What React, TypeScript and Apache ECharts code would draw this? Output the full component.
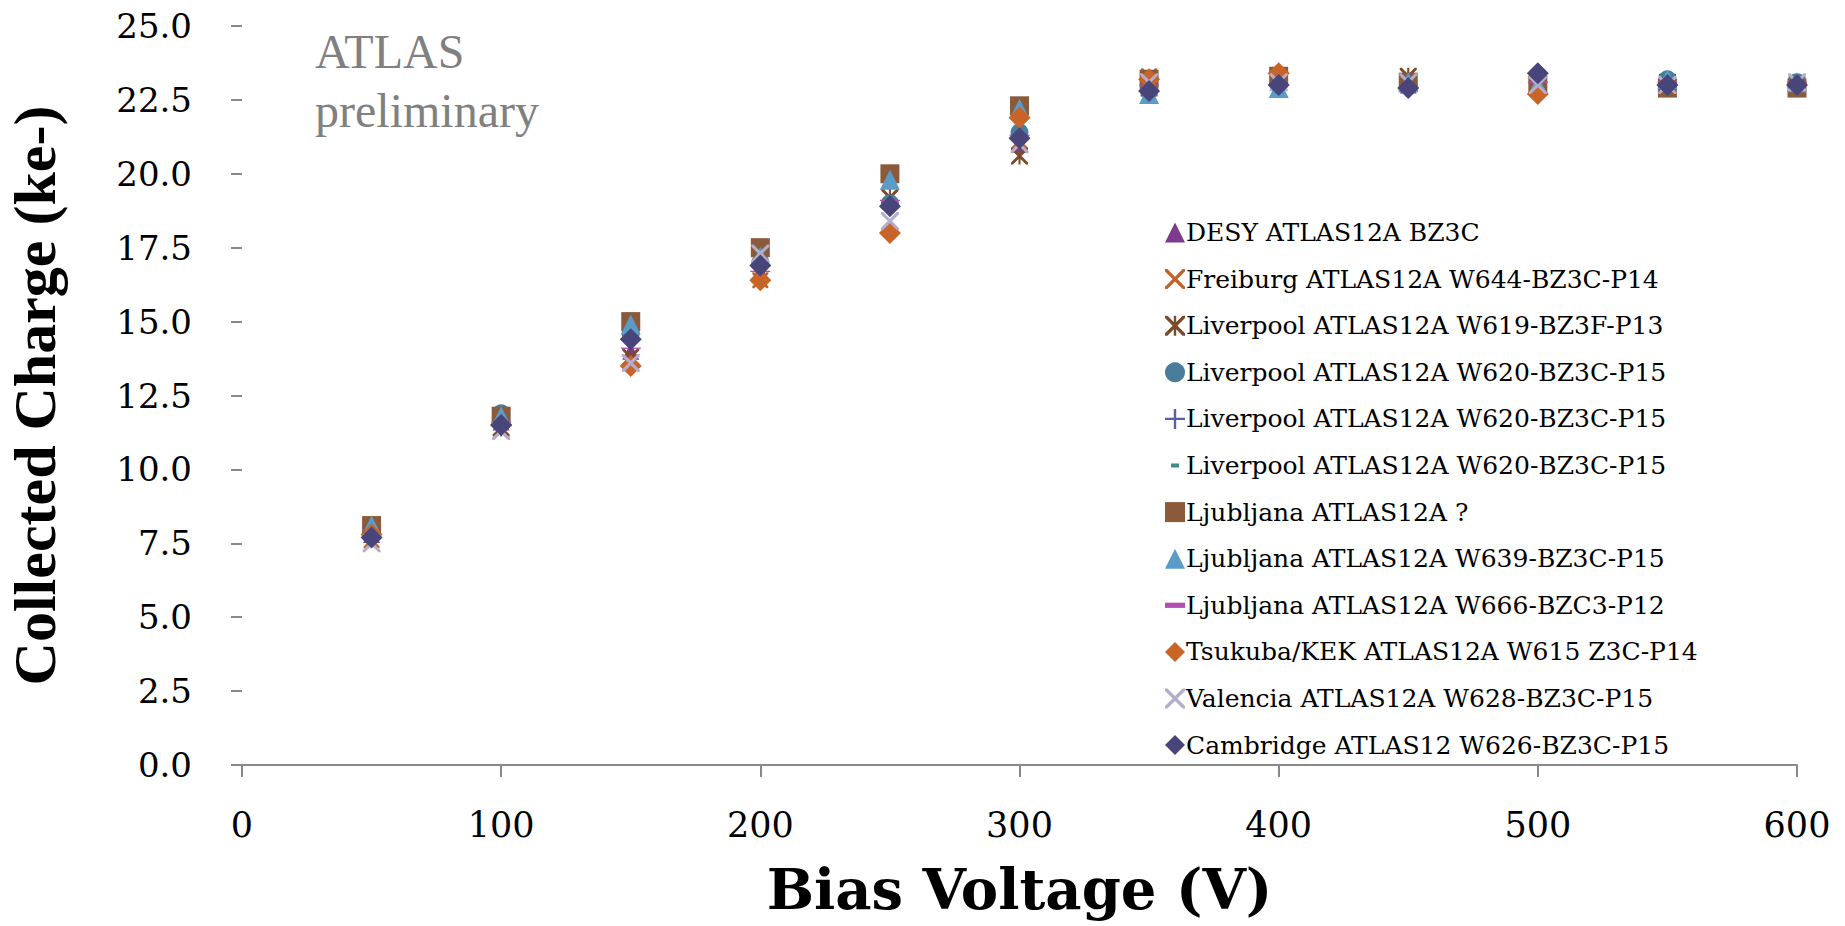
import React, { useEffect, useRef } from "react";
import * as echarts from "echarts";

const voltages = [50, 100, 150, 200, 250, 300, 350, 400, 450, 500, 550, 600];

const desy = [7.8, 11.6, 14.0, 16.7, 19.1, 21.0, 23.0, 23.1, 23.0, 23.1, null, null];
const freiburg = [7.6, 11.3, 13.6, 16.4, 19.2, 21.1, 23.3, 23.2, 23.1, 23.0, null, null];
const liverpool619 = [null, 11.4, 13.8, 16.6, 19.2, 20.6, 22.9, 23.2, 23.3, 23.1, 23.1, 23.0];
const liverpool620a = [8.1, 11.9, 14.6, 17.0, 19.0, 21.4, 22.8, 23.0, 23.0, 23.1, 23.2, 23.1];
const liverpool620b = [7.9, 11.7, 14.4, 16.9, 19.0, 21.2, 22.9, 23.0, 23.0, 23.0, 23.0, 23.0];
const liverpool620c = [8.0, 11.8, 14.5, 17.1, 19.1, 21.3, 22.9, 23.1, 23.0, 23.1, 23.1, 23.1];
const ljubljanaQ = [8.1, 11.8, 15.0, 17.5, 20.0, 22.3, 23.2, 23.3, 23.1, 23.0, 22.9, 22.9];
const ljubljana639 = [8.1, 11.8, 14.9, 17.2, 19.8, 22.2, 22.7, 22.9, 23.1, 23.0, 23.2, 23.1];
const ljubljana666 = [7.8, 11.6, 14.1, 16.7, 19.1, 21.3, 23.0, 23.0, 22.9, 23.1, 23.1, 23.1];
const tsukuba = [7.8, 11.5, 13.5, 16.4, 18.0, 21.9, 23.2, 23.4, null, 22.7, null, null];
const valencia = [7.5, 11.3, 13.6, 17.3, 18.4, 21.0, 23.1, 23.1, 23.1, 23.0, 23.0, 23.1];
const cambridge = [7.7, 11.5, 14.4, 16.9, 18.9, 21.2, 22.8, 23.0, 22.9, 23.4, 23.0, 23.0];

const seriesNames = [
  "DESY ATLAS12A BZ3C",
  "Freiburg ATLAS12A W644-BZ3C-P14",
  "Liverpool ATLAS12A W619-BZ3F-P13",
  "Liverpool ATLAS12A W620-BZ3C-P15",
  "Liverpool ATLAS12A W620-BZ3C-P15 ",
  "Liverpool ATLAS12A W620-BZ3C-P15  ",
  "Ljubljana ATLAS12A ?",
  "Ljubljana ATLAS12A W639-BZ3C-P15",
  "Ljubljana ATLAS12A W666-BZC3-P12",
  "Tsukuba/KEK ATLAS12A W615 Z3C-P14",
  "Valencia ATLAS12A W628-BZ3C-P15",
  "Cambridge ATLAS12 W626-BZ3C-P15",
];

const seriesValues = [
  desy, freiburg, liverpool619, liverpool620a, liverpool620b, liverpool620c,
  ljubljanaQ, ljubljana639, ljubljana666, tsukuba, valencia, cambridge,
];

const yTicks = [0, 2.5, 5, 7.5, 10, 12.5, 15, 17.5, 20, 22.5, 25];
const xTicks = [0, 100, 200, 300, 400, 500, 600];

const X_PATH =
  "M0,0 L1.2,0 L5,3.8 L8.8,0 L10,0 L10,1.2 L6.2,5 L10,8.8 L10,10 L8.8,10 L5,6.2 L1.2,10 L0,10 L0,8.8 L3.8,5 L0,1.2 Z";
const SYM_X = "path://" + X_PATH;
const SYM_AST = "path://" + X_PATH + " M4.4,0 L5.6,0 L5.6,10 L4.4,10 Z";
const SYM_PLUS =
  "path://M4.4,0 L5.6,0 L5.6,4.4 L10,4.4 L10,5.6 L5.6,5.6 L5.6,10 L4.4,10 L4.4,5.6 L0,5.6 L0,4.4 L4.4,4.4 Z";
const SYM_DASH_TEAL =
  "path://M0,0 L0.01,0 L0.01,0.01 Z M6,3 L14,3 L14,7 L6,7 Z M19.99,9.99 L20,9.99 L20,10 Z";
const SYM_DASH_MAG = "path://M0,0 L10,0 L10,2.6 L0,2.6 Z";

const styles = [
  { color: "#7E3B8E", symbol: "triangle", size: 17 },
  { color: "#C2622C", symbol: SYM_X, size: 16 },
  { color: "#7A4A2A", symbol: SYM_AST, size: 17 },
  { color: "#4A7D9B", symbol: "circle", size: 18 },
  { color: "#5B5EA6", symbol: SYM_PLUS, size: 17 },
  { color: "#3F8C8C", symbol: SYM_DASH_TEAL, size: [20, 10] },
  { color: "#8B5A3A", symbol: "rect", size: 19 },
  { color: "#5B9BC8", symbol: "triangle", size: 20 },
  { color: "#B34FB4", symbol: SYM_DASH_MAG, size: [20, 5] },
  { color: "#C96428", symbol: "diamond", size: 22 },
  { color: "#B3AECB", symbol: SYM_X, size: 18 },
  { color: "#47457A", symbol: "diamond", size: 22 },
];

const SERIF = "'DejaVu Serif', 'Liberation Serif', serif";

export default function App() {
  const ref = useRef<HTMLDivElement>(null);
  useEffect(() => {
    document.body.style.margin = "0";
    document.body.style.overflow = "hidden";
    if (!ref.current) return;
    const chart = echarts.init(ref.current, undefined, { renderer: "svg" });
    const series = seriesNames.map((name, i) => ({
      name,
      type: "scatter",
      symbol: styles[i].symbol,
      symbolSize: styles[i].size,
      symbolKeepAspect: true,
      itemStyle: { color: styles[i].color, opacity: 1 },
      data: voltages
        .map((v, j) => [v, seriesValues[i][j]])
        .filter((p) => p[1] !== null),
      z: 2 + i,
    }));
    chart.setOption({
      animation: false,
      backgroundColor: "#ffffff",
      grid: {
        left: 242,
        right: 48,
        top: 26,
        bottom: 161,
        containLabel: false,
        outerBoundsMode: "none",
      },
      xAxis: {
        type: "value",
        min: 0,
        max: 600,
        interval: 100,
        name: "Bias Voltage (V)",
        nameLocation: "middle",
        nameGap: 95,
        nameTextStyle: { fontFamily: SERIF, fontWeight: "bold", fontSize: 56, lineHeight: 58, color: "#000" },
        axisLine: { show: true, lineStyle: { color: "#898989", width: 2 } },
        axisTick: { show: true, length: 12, lineStyle: { color: "#898989", width: 2 } },
        axisLabel: {
          margin: 42,
          fontFamily: SERIF,
          fontSize: 35,
          color: "#000",
          formatter: (v: number) => (xTicks.includes(v) ? String(v) : ""),
        },
        splitLine: { show: false },
      },
      yAxis: {
        type: "value",
        min: 0,
        max: 25,
        interval: 2.5,
        name: "Collected Charge (ke-)",
        nameLocation: "middle",
        nameGap: 177,
        nameTextStyle: { fontFamily: "'Liberation Serif', serif", fontWeight: "bold", fontSize: 60, color: "#000" },
        axisLine: { show: false },
        axisTick: { show: true, length: 11, lineStyle: { color: "#898989", width: 2 } },
        axisLabel: {
          margin: 50,
          fontFamily: SERIF,
          fontSize: 34,
          color: "#000",
          formatter: (v: number) => (yTicks.includes(v) ? v.toFixed(1) : ""),
        },
        splitLine: { show: false },
      },
      legend: {
        orient: "vertical",
        left: 1160,
        top: 215,
        itemWidth: 20,
        itemHeight: 20,
        itemGap: 21.6,
        symbolKeepAspect: true,
        textStyle: { fontFamily: SERIF, fontSize: 25, color: "#000", padding: [0, 0, 0, -4] },
        data: seriesNames,
      },
      graphic: [
        {
          type: "text",
          left: 315,
          top: 22,
          style: {
            text: "ATLAS\npreliminary",
            fontFamily: "'Liberation Serif', serif",
            fontSize: 48,
            lineHeight: 59,
            fill: "#808080",
          },
        },
      ],
      series,
    });
    return () => chart.dispose();
  }, []);
  return <div ref={ref} style={{ width: 1845, height: 926, overflow: "hidden" }} />;
}
